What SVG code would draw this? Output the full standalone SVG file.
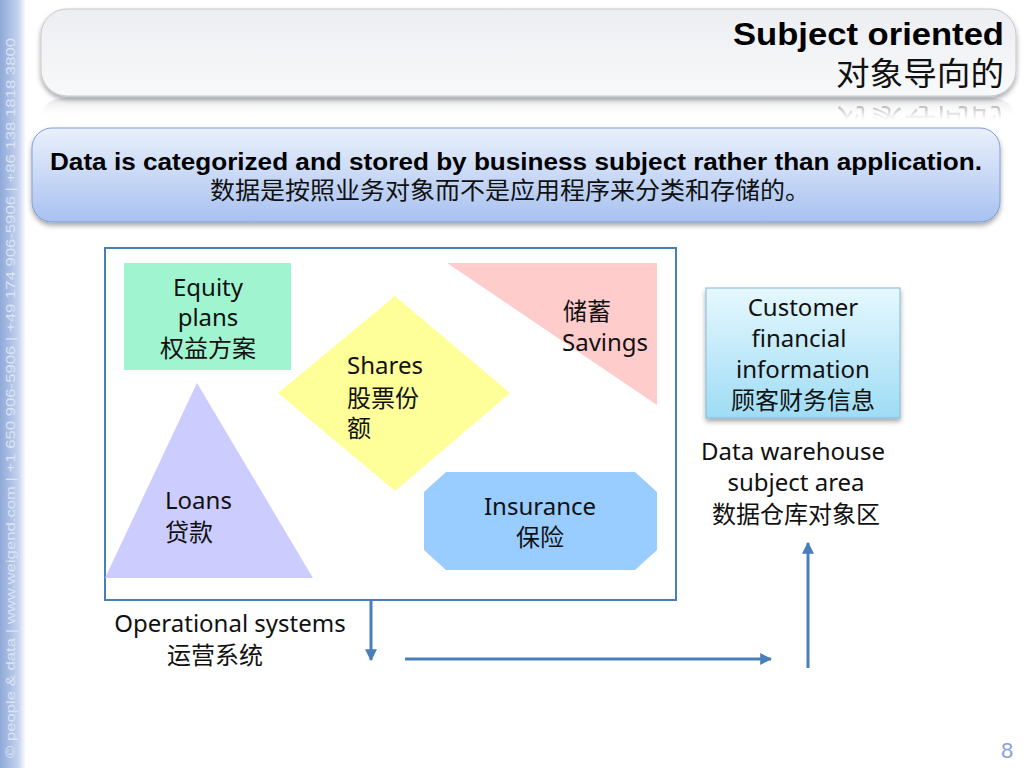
<svg xmlns="http://www.w3.org/2000/svg" width="1024" height="768" viewBox="0 0 1024 768">
<defs>
<linearGradient id="side" x1="0" y1="0" x2="1" y2="0"><stop offset="0" stop-color="#8fa9d8"/><stop offset="0.7" stop-color="#c4d2ee"/><stop offset="1" stop-color="#ffffff"/></linearGradient>
<linearGradient id="title" x1="0" y1="0" x2="0" y2="1"><stop offset="0" stop-color="#eceef2"/><stop offset="1" stop-color="#f8f9fa"/></linearGradient>
<linearGradient id="refl" x1="0" y1="0" x2="0" y2="1"><stop offset="0" stop-color="#d8dade" stop-opacity="0.7"/><stop offset="1" stop-color="#ffffff" stop-opacity="0"/></linearGradient>
<linearGradient id="fade" x1="0" y1="0" x2="0" y2="1"><stop offset="0" stop-color="#fff" stop-opacity="0.35"/><stop offset="1" stop-color="#fff" stop-opacity="0"/></linearGradient>
<mask id="rm" maskUnits="userSpaceOnUse" x="0" y="96" width="1024" height="24"><rect x="0" y="98" width="1024" height="22" fill="url(#fade)"/></mask>
<linearGradient id="blue" x1="0" y1="0" x2="0" y2="1"><stop offset="0" stop-color="#eaf0fc"/><stop offset="1" stop-color="#a8c1f0"/></linearGradient>
<linearGradient id="cyan" x1="0" y1="0" x2="0" y2="1"><stop offset="0" stop-color="#e6f8fe"/><stop offset="1" stop-color="#9edcf4"/></linearGradient>
<filter id="sh" x="-5%" y="-10%" width="110%" height="130%"><feDropShadow dx="0" dy="3" stdDeviation="2.5" flood-color="#000" flood-opacity="0.35"/></filter>
<marker id="ah" viewBox="0 0 10 10" refX="9" refY="5" markerWidth="4" markerHeight="4" orient="auto"><path d="M0,0 L10,5 L0,10 z" fill="#4a7ebb"/></marker>
</defs>
<style>
.t{font-family:"Noto Sans","Noto Sans CJK SC",sans-serif;font-size:24px;fill:#111}
.c{text-anchor:middle}
.b{font-family:"Liberation Sans","Noto Sans CJK SC",sans-serif}
.conn{stroke:#4a7ebb;stroke-width:3;fill:none;marker-end:url(#ah)}
</style>
<rect x="0" y="0" width="1024" height="768" fill="#fff"/>
<g id="sidebar">
<rect x="0" y="0" width="26" height="768" fill="url(#side)"/>
<text transform="translate(15,758) rotate(-90)" font-family="Liberation Sans,sans-serif" font-size="13" fill="#dbe3f3" textLength="720" lengthAdjust="spacingAndGlyphs">© people &amp; data | www.weigend.com | +1 650 906-5906 | +49 174 906-5906 | +86 138 1818 3800</text>
</g>
<g id="title-panel">
<path d="M66,98 H990 Q1014,98 1014,118 H42 Q42,98 66,98 Z" fill="url(#refl)"/>
<g mask="url(#rm)">
<text transform="matrix(1,0,0,-1,0,194)" x="1004" y="85" text-anchor="end" class="b" font-size="32" fill="#000" textLength="168" lengthAdjust="spacingAndGlyphs">对象导向的</text>
</g>
<rect x="41" y="9" width="975" height="87" rx="26" fill="url(#title)" stroke="#c8c8c8" filter="url(#sh)"/>
<text x="1004" y="45" text-anchor="end" class="b" font-size="32" font-weight="bold" fill="#000" textLength="271" lengthAdjust="spacingAndGlyphs">Subject oriented</text>
<text x="1004" y="85" text-anchor="end" class="b" font-size="32" fill="#111" textLength="168" lengthAdjust="spacingAndGlyphs">对象导向的</text>
</g>
<g id="banner">
<rect x="32" y="128" width="968" height="94" rx="20" fill="url(#blue)" stroke="#7f9fd6" filter="url(#sh)"/>
<text x="516" y="170" class="b c" font-size="23" font-weight="bold" fill="#000" textLength="932" lengthAdjust="spacingAndGlyphs">Data is categorized and stored  by business subject rather than application.</text>
<text x="510" y="199" class="b c" font-size="24" fill="#111" textLength="600" lengthAdjust="spacingAndGlyphs">数据是按照业务对象而不是应用程序来分类和存储的。</text>
</g>
<g id="operational-frame">
<rect x="105" y="248" width="571" height="352" fill="#fff" stroke="#4a7ebb" stroke-width="2"/>
</g>
<g id="equity">
<rect x="124" y="263" width="167" height="107" fill="#a0f5d0"/>
<text class="t c" x="208" y="296">Equity</text>
<text class="t c" x="208" y="326">plans</text>
<text class="t c" x="208" y="357">权益方案</text>
</g>
<g id="savings">
<polygon points="447,263 657,263 657,405" fill="#ffcccc"/>
<text class="t" x="563" y="320">储蓄</text>
<text class="t" x="562" y="351">Savings</text>
</g>
<g id="shares">
<polygon points="395,296 510,393 395,491 278,393" fill="#ffff99"/>
<text class="t" x="347" y="374">Shares</text>
<text class="t" x="347" y="407">股票份</text>
<text class="t" x="347" y="437">额</text>
</g>
<g id="loans">
<polygon points="197,383 313,578 105,578" fill="#ccccff"/>
<text class="t" x="165" y="509">Loans</text>
<text class="t" x="165" y="541">贷款</text>
</g>
<g id="insurance">
<polygon points="446,472 635,472 657,492 657,550 635,570 446,570 424,550 424,492" fill="#99ccff"/>
<text class="t c" x="540" y="515">Insurance</text>
<text class="t c" x="540" y="546">保险</text>
</g>
<g id="customer">
<rect x="706" y="288" width="194" height="130" fill="url(#cyan)" stroke="#86b8d8" filter="url(#sh)"/>
<text class="t c" x="803" y="316">Customer</text>
<text class="t c" x="799" y="347">financial</text>
<text class="t c" x="803" y="378">information</text>
<text class="t c" x="803" y="409">顾客财务信息</text>
</g>
<g id="dw-label">
<text class="t c" x="793" y="460">Data warehouse</text>
<text class="t c" x="796" y="491">subject area</text>
<text class="t c" x="796" y="523">数据仓库对象区</text>
</g>
<g id="op-label">
<text class="t c" x="230" y="632">Operational systems</text>
<text class="t c" x="215" y="664">运营系统</text>
</g>
<g id="connectors">
<line class="conn" x1="371" y1="601" x2="371" y2="660"/>
<line class="conn" x1="405" y1="659" x2="771" y2="659"/>
<line class="conn" x1="808" y1="668" x2="808" y2="543"/>
</g>
<text x="1007" y="758" text-anchor="middle" font-family="Liberation Sans,sans-serif" font-size="22" fill="#8aa3d6">8</text>
</svg>
